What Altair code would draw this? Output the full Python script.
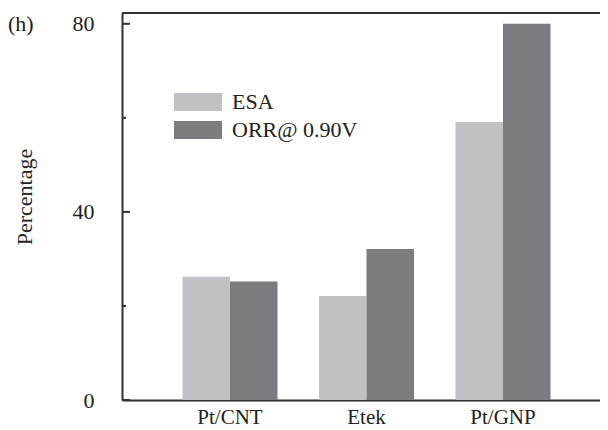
import altair as alt
import pandas as pd

catalysts = ["Pt/CNT", "Etek", "Pt/GNP"]
series = ["ESA", "ORR@ 0.90V"]
esa = [26.2, 22.1, 59.1]
orr = [25.2, 32.1, 80.0]
colors = ["#c0c1c4", "#7a7c80"]
major_ticks = [0, 40, 80]
minor_ticks = [20, 60]

rows = []
for c, a, b in zip(catalysts, esa, orr):
    rows.append({"Catalyst": c, "Series": series[0], "Value": a})
    rows.append({"Catalyst": c, "Series": series[1], "Value": b})
df = pd.DataFrame(rows)

W, H = 478, 387
YMAX = 82.3
FONT = "Liberation Serif"
AX = "#333333"
TXT = "#222222"

yscale = alt.Scale(domain=[0, YMAX], nice=False, zero=True)

bars = alt.Chart(df).mark_bar().encode(
    x=alt.X("Catalyst:N", sort=catalysts,
            scale=alt.Scale(paddingInner=0.304, paddingOuter=0.403, align=0.55),
            axis=alt.Axis(title=None, labelAngle=0, ticks=False, tickSize=0,
                          labelPadding=6, labelFont=FONT, labelFontSize=21,
                          labelColor=TXT, domainColor=AX, domainWidth=2)),
    xOffset=alt.XOffset("Series:N", sort=series),
    y=alt.Y("Value:Q", scale=yscale,
            axis=alt.Axis(title="Percentage", values=major_ticks, ticks=False, tickSize=0,
                          grid=False, labelPadding=28, labelFont=FONT, labelFontSize=22,
                          labelColor=TXT, domainColor=AX, domainWidth=2,
                          titleFont=FONT, titleFontSize=22, titleFontWeight="normal",
                          titleColor=TXT, titleAngle=-90, titleX=-91, titleY=183.5,
                          titleBaseline="alphabetic", titleAlign="center")),
    color=alt.Color("Series:N", sort=series,
                    scale=alt.Scale(domain=series, range=colors),
                    legend=alt.Legend(title=None, orient="none", legendX=65, legendY=78,
                                      padding=0,
                                      symbolType="M-2.667,-1L2.667,-1L2.667,1L-2.667,1Z",
                                      symbolSize=324, symbolStrokeWidth=0,
                                      symbolOpacity=1,
                                      labelFont=FONT, labelFontSize=22,
                                      labelColor=TXT, labelOffset=23,
                                      rowPadding=6)),
)

maj = alt.Chart(pd.DataFrame({"v": major_ticks})).mark_rule(color=AX, strokeWidth=2).encode(
    y=alt.Y("v:Q", scale=yscale), x=alt.value(0), x2=alt.value(8))
mnr = alt.Chart(pd.DataFrame({"v": minor_ticks})).mark_rule(color=AX, strokeWidth=2).encode(
    y=alt.Y("v:Q", scale=yscale), x=alt.value(0), x2=alt.value(4))
top = alt.Chart(pd.DataFrame({"a": [0]})).mark_rule(color=AX, strokeWidth=2).encode(
    y=alt.value(0), x=alt.value(0), x2=alt.value(W))
lab = alt.Chart(pd.DataFrame({"t": ["(h)"]})).mark_text(
    font=FONT, fontSize=22, align="left", baseline="alphabetic", color=TXT).encode(
    x=alt.value(-114), y=alt.value(18), text="t:N")

chart = alt.layer(bars, maj, mnr, top, lab).properties(
    width=W, height=H,
    autosize=alt.AutoSizeParams(type="none"),
    padding={"left": 114, "top": 5, "right": 0, "bottom": 30},
).configure_view(stroke=None).configure(background="white")

chart.save("out.html", embed_options={"renderer": "svg", "actions": False})
